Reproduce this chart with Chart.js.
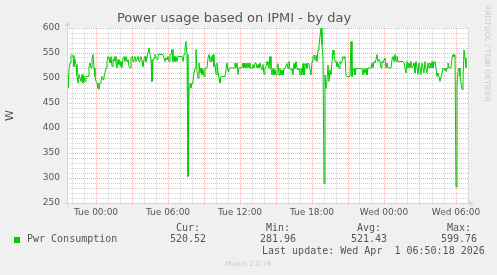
<!DOCTYPE html>
<html>
<head>
<meta charset="utf-8">
<script src="https://cdn.jsdelivr.net/npm/chart.js@4/dist/chart.umd.min.js"></script>
<style>
body { margin: 0; background: #f0f0f0; }
#wrap { position: relative; width: 497px; height: 275px; overflow: hidden; }
#wrap canvas { position: absolute; left: 0; top: 0; }
.t { position: absolute; font: 10px/12px "DejaVu Sans Mono", monospace; color: #555; white-space: pre; }
.c { width: 60px; text-align: center; }
.sq { position: absolute; left: 14px; top: 237px; width: 6px; height: 6px; background: #00cc00; }
.wm { position: absolute; font-family: "DejaVu Sans", sans-serif; color: #cacaca; white-space: pre; }
</style>
</head>
<body>
<div id="wrap">
  <canvas id="power" width="497" height="275"></canvas>
  <div class="sq"></div>
  <div class="t" style="left:27px;top:233px">Pwr Consumption</div>
  <div class="t c" id="h0" style="left:158px;top:221.5px"></div>
  <div class="t c" id="h1" style="left:248px;top:221.5px"></div>
  <div class="t c" id="h2" style="left:339px;top:221.5px"></div>
  <div class="t c" id="h3" style="left:429px;top:221.5px"></div>
  <div class="t c" id="v0" style="left:158px;top:233px"></div>
  <div class="t c" id="v1" style="left:248px;top:233px"></div>
  <div class="t c" id="v2" style="left:339px;top:233px"></div>
  <div class="t c" id="v3" style="left:429px;top:233px"></div>
  <div class="t" style="left:262px;top:244.8px">Last update: Wed Apr  1 06:50:18 2026</div>
  <div class="wm" style="left:0;width:497px;text-align:center;top:259px;font-size:7px;line-height:10px">Munin 2.0.76</div>
  <div class="wm" style="left:482px;top:5px;font-size:7.5px;line-height:10px;writing-mode:vertical-rl">RRDTOOL / TOBI OETIKER</div>
</div>
<script>
// 5 minute samples, first one Mon 21:35, last one Wed 06:50
var startHour = 21 + 35 / 60;
var power = [
  505, 480, 517, 530, 545, 547, 545, 523, 537, 527,
  505, 490, 507, 507, 493, 507, 490, 503, 493, 503,
  503, 503, 523, 530, 520, 537, 547, 520, 503, 493,
  490, 480, 477, 490, 493, 503, 497, 503, 510, 520,
  533, 543, 540, 530, 543, 523, 537, 533, 543, 533,
  520, 537, 527, 533, 523, 520, 540, 543, 533, 543,
  533, 537, 523, 520, 540, 543, 533, 537, 543, 533,
  537, 543, 533, 540, 543, 533, 523, 537, 543, 533,
  540, 550, 560, 547, 537, 493, 533, 540, 547, 540,
  537, 547, 547, 547, 547, 547, 547, 547, 533, 540,
  537,
  543, 533, 547, 547, 557, 533, 543, 533, 543, 533,
  543, 543, 543, 543, 543, 533, 547, 560, 573, 547,
  303, 480, 490, 480, 490, 493, 510, 520, 557, 513,
  500, 530, 510, 520, 507, 517, 503, 520, 520, 520,
  540, 547, 533, 543, 533, 547, 523, 527, 507, 530,
  513, 500, 490, 503, 503, 503, 503, 503, 503, 530,
  513, 520, 520, 520, 520, 520, 520, 530, 520, 530,
  507, 520, 520, 520, 520, 530, 520, 530, 520, 530,
  520, 530, 520, 520, 520, 527, 520, 530, 530, 520,
  527, 520, 530, 520, 517, 527, 507, 520, 523, 533,
  526, 519, 543, 519, 506, 519, 506, 516, 506, 519,
  529, 506, 519, 506, 516, 506, 519, 519, 519, 529,
  519, 533, 519, 516, 519, 506, 529, 519, 533, 519,
  516, 519, 506, 519, 506, 529, 506, 523, 529, 519,
  529, 529, 529, 506, 533, 543, 546, 536, 546, 533,
  556, 566, 583, 599.76, 566, 539, 289, 506, 479, 496,
  526, 493, 516, 506, 533, 556, 546, 533, 533, 523,
  529, 519, 533, 529, 533, 543, 539, 543, 506, 503,
  503, 503, 503, 573, 503, 516, 519, 506, 519, 519,
  519, 519, 519, 519, 519, 506, 519, 509, 519, 506,
  520, 520, 520, 520, 530, 520, 533, 530, 537, 547,
  533, 537, 533, 520, 533, 530, 537, 540, 520, 530,
  520, 520, 520, 520, 537, 543, 533, 547, 533, 543,
  533, 533, 533, 533, 533, 533, 530, 520, 510, 533,
  520, 530, 520, 533, 520, 523, 530, 510, 533, 520,
  507, 530, 520, 507, 530, 520, 510, 533, 520, 510,
  530, 520, 530, 520, 533, 520, 530, 533, 520, 503,
  510, 503, 493, 503, 510, 520, 517, 520, 513, 520,
  530, 520, 520, 520, 540, 547, 543, 546, 281.96, 490,
  513, 520, 503, 490, 477, 500, 556, 540, 520.52
];
var tickHours = [24, 30, 36, 42, 48, 54];
var tickLabels = ['Tue 00:00', 'Tue 06:00', 'Tue 12:00', 'Tue 18:00', 'Wed 00:00', 'Wed 06:00'];
var statNames = ['Cur:', 'Min:', 'Avg:', 'Max:'];
var statValues = ['520.52', '281.96', '521.43', '599.76'];

for (var k = 0; k < 4; k++) {
  document.getElementById('h' + k).textContent = statNames[k];
  document.getElementById('v' + k).textContent = statValues[k];
}

var points = power.map(function (v, i) { return {x: startHour + i / 12, y: v}; });

var minorGrid = 'rgba(143,143,143,0.4)';
var majorGrid = 'rgba(222,79,79,0.45)';
var axisColor = '#cfd6f8';

var canvasBg = {
  id: 'canvasBg',
  beforeDraw: function (chart) {
    var a = chart.chartArea, c = chart.ctx;
    c.save();
    c.fillStyle = '#ffffff';
    c.fillRect(a.left, a.top, a.right - a.left, a.bottom - a.top);
    c.restore();
  }
};

var axes = {
  id: 'axes',
  afterDraw: function (chart) {
    var a = chart.chartArea, c = chart.ctx;
    var x0 = Math.round(a.left) + 0.5, y0 = Math.round(a.bottom) + 0.5;
    c.save();
    c.strokeStyle = axisColor;
    c.fillStyle = axisColor;
    c.lineWidth = 1;
    c.beginPath();
    c.moveTo(x0, y0 + 3); c.lineTo(x0, a.top - 2);
    c.moveTo(x0 - 4, y0); c.lineTo(a.right + 1, y0);
    c.stroke();
    c.beginPath();
    c.moveTo(x0 - 3, a.top - 2); c.lineTo(x0 + 3, a.top - 2); c.lineTo(x0, a.top - 7); c.closePath();
    c.fill();
    c.beginPath();
    c.moveTo(a.right + 1, y0 - 3); c.lineTo(a.right + 1, y0 + 3); c.lineTo(a.right + 6, y0); c.closePath();
    c.fill();
    c.restore();
  }
};

new Chart(document.getElementById('power').getContext('2d'), {
  type: 'line',
  data: {
    datasets: [{
      label: 'Pwr Consumption',
      data: points,
      borderColor: '#00cc00',
      borderWidth: 1,
      pointRadius: 0,
      tension: 0
    }]
  },
  options: {
    responsive: false,
    animation: false,
    layout: { padding: { left: 0, right: 29, top: 0, bottom: 0 } },
    plugins: {
      legend: { display: false },
      tooltip: { enabled: false },
      title: {
        display: true,
        text: 'Power usage based on IPMI - by day',
        color: '#555',
        font: { family: 'DejaVu Sans', size: 13, weight: 'normal' },
        padding: { top: 11, bottom: 1.4 }
      }
    },
    scales: {
      x: {
        type: 'linear',
        min: startHour,
        max: 55,
        afterBuildTicks: function (s) {
          s.ticks = [];
          for (var h = 22; h <= 55; h++) s.ticks.push({value: h});
        },
        afterFit: function (s) { s.height = 72; },
        border: { display: false, dash: [1, 1] },
        grid: {
          drawTicks: false,
          color: function (ctx) { return ctx.tick && ctx.tick.value % 3 === 0 ? majorGrid : minorGrid; }
        },
        ticks: {
          autoSkip: false,
          maxRotation: 0,
          padding: 4,
          color: '#555',
          font: { family: 'DejaVu Sans', size: 9 },
          callback: function (v) {
            var i = tickHours.indexOf(v);
            return i < 0 ? '' : tickLabels[i];
          }
        }
      },
      y: {
        min: 250,
        max: 600,
        afterBuildTicks: function (s) {
          s.ticks = [];
          for (var v = 250; v <= 600; v += 10) s.ticks.push({value: v});
        },
        afterFit: function (s) { s.width = 67; },
        border: { display: false, dash: [1, 1] },
        grid: {
          drawTicks: false,
          color: function (ctx) { return ctx.tick && ctx.tick.value % 50 === 0 ? majorGrid : minorGrid; }
        },
        title: {
          display: true,
          text: 'W',
          color: '#555',
          font: { family: 'DejaVu Sans', size: 11 },
          padding: { top: 4, bottom: 0 }
        },
        ticks: {
          autoSkip: false,
          padding: 7,
          color: '#555',
          font: { family: 'DejaVu Sans', size: 9 },
          callback: function (v) { return v % 50 === 0 ? v : ''; }
        }
      }
    }
  },
  plugins: [canvasBg, axes]
});
</script>
</body>
</html>
